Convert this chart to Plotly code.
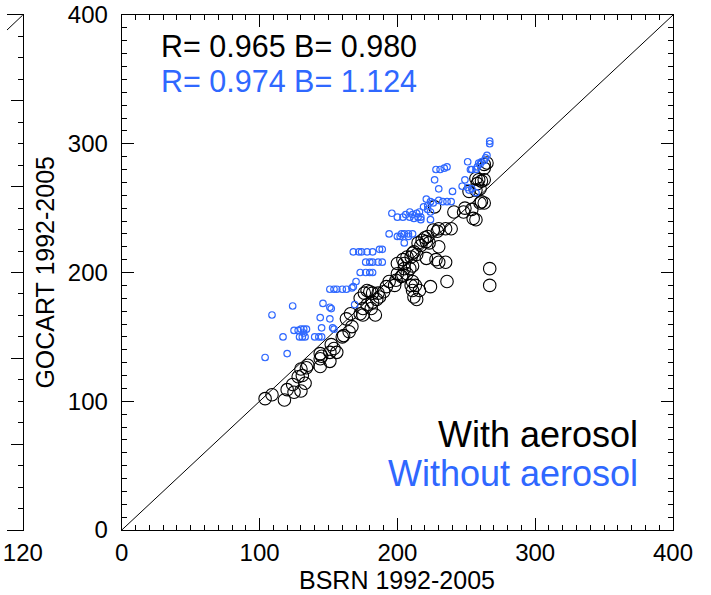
import plotly.graph_objects as go

# ---- data (BSRN vs GOCART, 1992-2005) ----
bsrn_with = [104,109,118,120,124,125,130,133,128,131,130,134,135,144,144,144,145,151,151,152,154,156,
             160,161,165,167,163,166,173,175,175,178,181,184,182,185,173,176,178,180,182,186,187,190,
             192,194,198,199,200,203,204,207,205,209,211,200,204,205,207,210,211,212,214,211,210,213,
             211,216,224,236,212,214,221,228,230,235,215,217,218,220,222,221,223,230,226,229,230,235,
             239,227,241,248,249,254,255,257,252,257,260,257,258,259,261,263,260,261,263,263,263,265,
             267,267]
gocart_with = [102,105,101,109,113,107,108,114,119,120,125,126,128,127,133,137,135,131,138,144,141,138,
               150,151,154,158,164,168,168,167,172,175,172,167,177,179,180,184,186,185,184,184,181,185,
               189,193,190,194,199,197,198,199,203,203,205,207,210,207,212,212,215,216,214,193,190,190,
               186,186,189,193,181,179,211,210,208,208,223,221,225,227,228,224,223,220,233,232,234,234,
               234,251,247,247,250,249,242,241,263,264,265,273,269,272,271,272,254,255,254,281,284,285,
               203,190]

bsrn_without = [104,109,117,120,124,125,128,130,132,134,129,131,133,132,140,143,145,145,146,144,151,152,
                151,153,154,151,154,156,160,163,167,170,169,168,168,172,174,178,182,187,189,177,180,182,
                186,189,173,177,180,182,194,200,203,205,208,211,208,202,205,196,200,204,206,209,209,211,
                212,214,215,216,217,217,219,222,224,224,221,224,226,222,230,233,236,239,227,230,240,228,
                231,234,236,247,249,251,252,254,257,251,253,254,257,258,259,260,261,263,264,265,267,267]
gocart_without = [134,167,150,137,174,155,155,156,156,156,150,150,150,153,150,150,150,157,176,165,173,172,
                  164,157,156,187,187,187,187,187,188,193,175,189,216,216,216,216,216,218,218,208,208,208,
                  208,208,200,200,200,200,230,228,230,230,230,230,228,228,223,246,243,243,245,247,243,245,
                  242,246,243,247,243,241,251,249,247,241,257,255,254,252,256,255,255,255,272,265,263,280,
                  280,281,282,267,272,266,264,265,262,286,280,280,280,282,285,284,286,287,289,291,300,302]

one_to_one = [0, 400]
left_one_to_one = [0, 120]

axis_ticks = [0, 100, 200, 300, 400]

stats_with = "R= 0.965 B= 0.980"
stats_without = "R= 0.974 B= 1.124"

BLUE = "#2f68ff"
FONT = "Liberation Sans, Arial, Helvetica, sans-serif"

W, H = 711, 595
L, R, T, B = 116, 673, 15, 530  # plot box in pixels

fig = go.Figure()

# left (cut-off) panel
fig.add_trace(go.Scatter(x=left_one_to_one, y=left_one_to_one, mode="lines",
                         line=dict(color="black", width=1), xaxis="x2", yaxis="y2",
                         hoverinfo="skip", showlegend=False))

# main panel
fig.add_trace(go.Scatter(x=one_to_one, y=one_to_one, mode="lines",
                         line=dict(color="black", width=1), showlegend=False))
fig.add_trace(go.Scatter(x=bsrn_with, y=gocart_with, mode="markers", name="With aerosol",
                         marker=dict(symbol="circle-open", size=12.5, color="black",
                                     line=dict(width=1.1, color="black")),
                         showlegend=False))
fig.add_trace(go.Scatter(x=bsrn_without, y=gocart_without, mode="markers", name="Without aerosol",
                         marker=dict(symbol="circle-open", size=6.5, color=BLUE,
                                     line=dict(width=1.2, color=BLUE)),
                         showlegend=False))

axis_common = dict(showgrid=False, zeroline=False, showline=True, linecolor="black", linewidth=1.2,
                   ticks="inside", ticklen=12, tickwidth=1, tickcolor="black",
                   tickfont=dict(family=FONT, size=24, color="black"))

fig.update_layout(
    width=W, height=H,
    margin=dict(l=0, r=W - R, t=T, b=H - B),
    paper_bgcolor="white", plot_bgcolor="white",
    xaxis=dict(domain=[L / R, 1.0], range=[0, 400], tickvals=axis_ticks,
               mirror="allticks", ticklabelstandoff=1,
               minor=dict(ticks="inside", ticklen=5, dtick=10, tick0=0, tickcolor="black", showgrid=False),
               **axis_common),
    yaxis=dict(domain=[0, 1], range=[0, 400], tickvals=axis_ticks,
               mirror="allticks", ticklabelstandoff=8,
               minor=dict(ticks="inside", ticklen=5, dtick=10, tick0=0, tickcolor="black", showgrid=False),
               **axis_common),
    xaxis2=dict(domain=[0, 16 / R], range=[116.5, 120], tickvals=[120], anchor="y2",
                mirror=True, ticklabelstandoff=1, **axis_common),
    yaxis2=dict(domain=[0, 1], range=[0, 120], anchor="x2", side="right", dtick=20,
                showticklabels=False,
                minor=dict(ticks="inside", ticklen=5, dtick=5, tick0=0, tickcolor="black", showgrid=False),
                **axis_common),
)

ann_font = lambda size, color="black": dict(family=FONT, size=size, color=color)

fig.add_annotation(x=27, y=376, xref="x", yref="y", text=stats_with, showarrow=False,
                   xanchor="left", yanchor="middle", font=ann_font(30.5))
fig.add_annotation(x=27, y=349, xref="x", yref="y", text=stats_without, showarrow=False,
                   xanchor="left", yanchor="middle", font=ann_font(30.5, BLUE))
fig.add_annotation(x=376, y=74, xref="x", yref="y", text="With aerosol", showarrow=False,
                   xanchor="right", yanchor="middle", font=ann_font(36))
fig.add_annotation(x=376, y=44, xref="x", yref="y", text="Without aerosol", showarrow=False,
                   xanchor="right", yanchor="middle", font=ann_font(36, BLUE))

# axis titles
fig.add_annotation(x=200, y=-50 / (B - T), xref="x", yref="paper", text="BSRN 1992-2005",
                   showarrow=False, xanchor="center", yanchor="middle", font=ann_font(25))
fig.add_annotation(x=38 / R, y=(B - 272) / (B - T), xref="paper", yref="paper",
                   text="GOCART 1992-2005", textangle=-90, showarrow=False,
                   xanchor="center", yanchor="middle", font=ann_font(25))
# cut-off figure title at the very top
fig.add_annotation(x=455 / R, y=1 + 36 / (B - T), xref="paper", yref="paper",
                   text="Clear-sky surface SW (1992-2005)", showarrow=False,
                   xanchor="center", yanchor="middle", font=ann_font(32))

fig.write_html("out.html", config={"displayModeBar": False},
               post_script="document.body.style.margin='0px';")
